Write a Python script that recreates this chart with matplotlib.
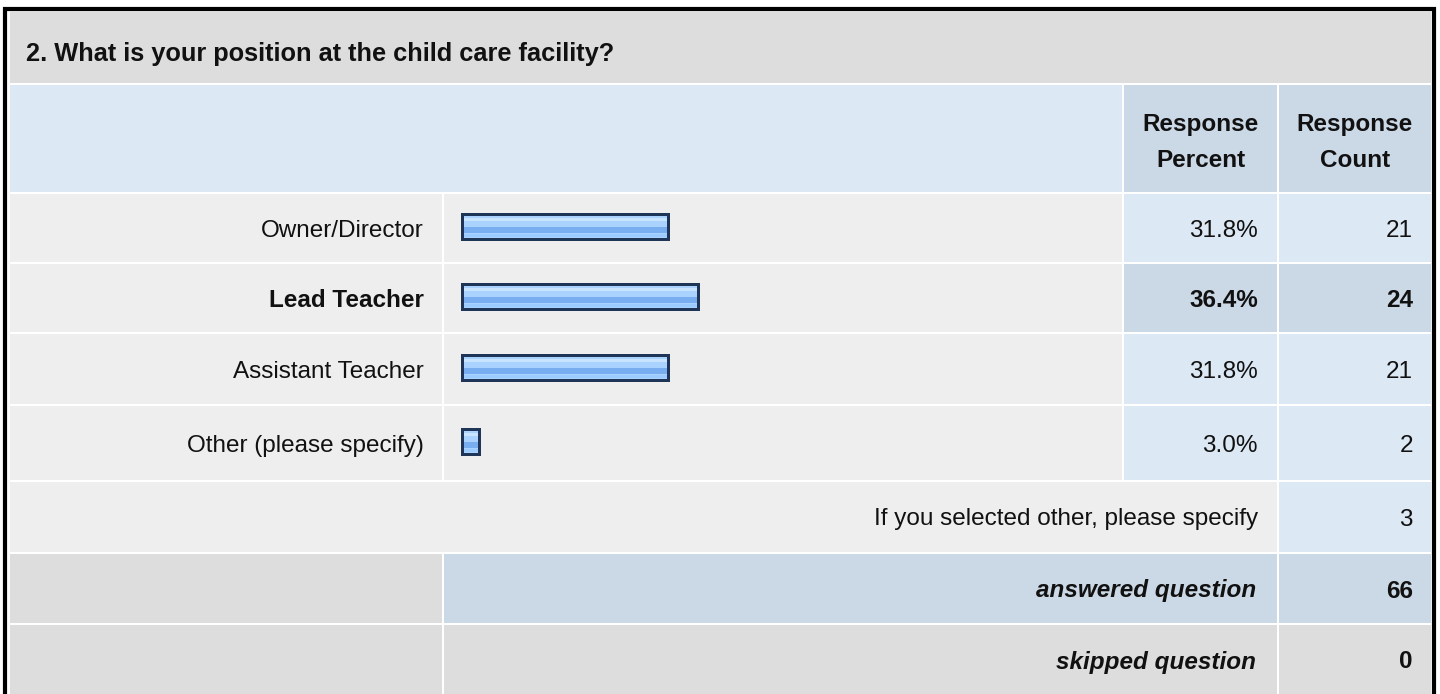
import matplotlib

matplotlib.use("Agg")
import matplotlib.pyplot as plt

plt.rcParams["font.family"] = ["Liberation Sans", "DejaVu Sans"]

# survey data
question = "2. What is your position at the child care facility?"
answers = ["Owner/Director", "Lead Teacher", "Assistant Teacher", "Other (please specify)"]
percents = [31.8, 36.4, 31.8, 3.0]
counts = [21, 24, 21, 2]
highlight = "Lead Teacher"
other_label = "If you selected other, please specify"
other_count = 3
answered = 66
skipped = 0

# colours
GRAY = "#dddddd"
LIGHT = "#eeeeee"
BLUE = "#dde8f5"
BLUE_DARK = "#cbd8e6"
NAVY = "#1e3558"
INK = "#111111"

W, H = 1440, 694
fig = plt.figure(figsize=(W / 100, H / 100), dpi=100)
ax = fig.add_axes([0, 0, 1, 1])
ax.set_xlim(0, W)
ax.set_ylim(H, 0)
ax.axis("off")

# column edges (pixels)
c_label = (10, 442)
c_bar = (444, 1122)
c_pct = (1124, 1277)
c_cnt = (1279, 1431)
bar_x0 = 461
px_per_pct = 6.57
FS = 17.5


def cell(x0, x1, y0, y1, color):
    ax.add_patch(plt.Rectangle((x0, y0), x1 - x0, y1 - y0, facecolor=color, edgecolor="none"))


def txt(x, yc, s, ha="right", fs=FS, **kw):
    # yc = vertical middle of the capital letters
    ax.text(x, yc + 8.5, s, ha=ha, va="baseline", fontsize=fs, color=INK, **kw)


# outer frame
ax.add_patch(plt.Rectangle((5, 9), 1429, 690, facecolor="white", edgecolor="black", linewidth=3))

# title row
cell(10, 1431, 11, 83, GRAY)
ax.text(26, 61, question, ha="left", va="baseline", fontsize=18.3, fontweight="bold", color=INK)

# header row
cell(10, c_bar[1], 85, 192, BLUE)
cell(*c_pct, 85, 192, BLUE_DARK)
cell(*c_cnt, 85, 192, BLUE_DARK)
for (x0, x1), second in [(c_pct, "Percent"), (c_cnt, "Count")]:
    txt((x0 + x1) / 2, 122.5, "Response", ha="center", fontweight="bold")
    txt((x0 + x1) / 2, 158.5, second, ha="center", fontweight="bold")

# answer rows
row_tops = [194, 264, 334, 406]
row_bots = [262, 332, 404, 480]
for name, pct, cnt, y0, y1 in zip(answers, percents, counts, row_tops, row_bots):
    yc = (y0 + y1) / 2
    hl = name == highlight
    cell(*c_label, y0, y1, LIGHT)
    cell(*c_bar, y0, y1, LIGHT)
    cell(*c_pct, y0, y1, BLUE_DARK if hl else BLUE)
    cell(*c_cnt, y0, y1, BLUE_DARK if hl else BLUE)
    weight = "bold" if hl else "normal"
    txt(424, yc, name, fontweight=weight)
    txt(1258, yc, f"{pct:.1f}%", fontweight=weight)
    txt(1413, yc, str(cnt), fontweight=weight)

    # glossy bar: navy frame, then horizontal bands of blue
    width = pct * px_per_pct
    yb = yc - 1
    ax.barh(yb, width, height=28, left=bar_x0, color=NAVY)
    ax.barh(yb, width - 6, height=22, left=bar_x0 + 3, color="#a9d2ff")
    ax.barh(yb - 8, width - 6, height=3, left=bar_x0 + 3, color="#c8e4ff")
    ax.barh(yb + 3, width - 6, height=6, left=bar_x0 + 3, color="#78aef0")
    ax.barh(yb + 8, width - 6, height=3, left=bar_x0 + 3, color="#9ccbff")

# "other" free text row
cell(10, c_pct[1], 482, 552, LIGHT)
cell(*c_cnt, 482, 552, BLUE)
txt(1258, 517, other_label)
txt(1413, 517, str(other_count))

# answered / skipped
cell(*c_label, 554, 623, GRAY)
cell(c_bar[0], c_pct[1], 554, 623, BLUE_DARK)
cell(*c_cnt, 554, 623, BLUE_DARK)
txt(1256, 589, "answered question", fontweight="bold", fontstyle="italic")
txt(1413, 589, str(answered), fontweight="bold")

cell(*c_label, 625, 694, GRAY)
cell(c_bar[0], c_pct[1], 625, 694, GRAY)
cell(*c_cnt, 625, 694, GRAY)
txt(1256, 660, "skipped question", fontweight="bold", fontstyle="italic")
txt(1413, 660, str(skipped), fontweight="bold")

fig.savefig("out.png", dpi=100)
